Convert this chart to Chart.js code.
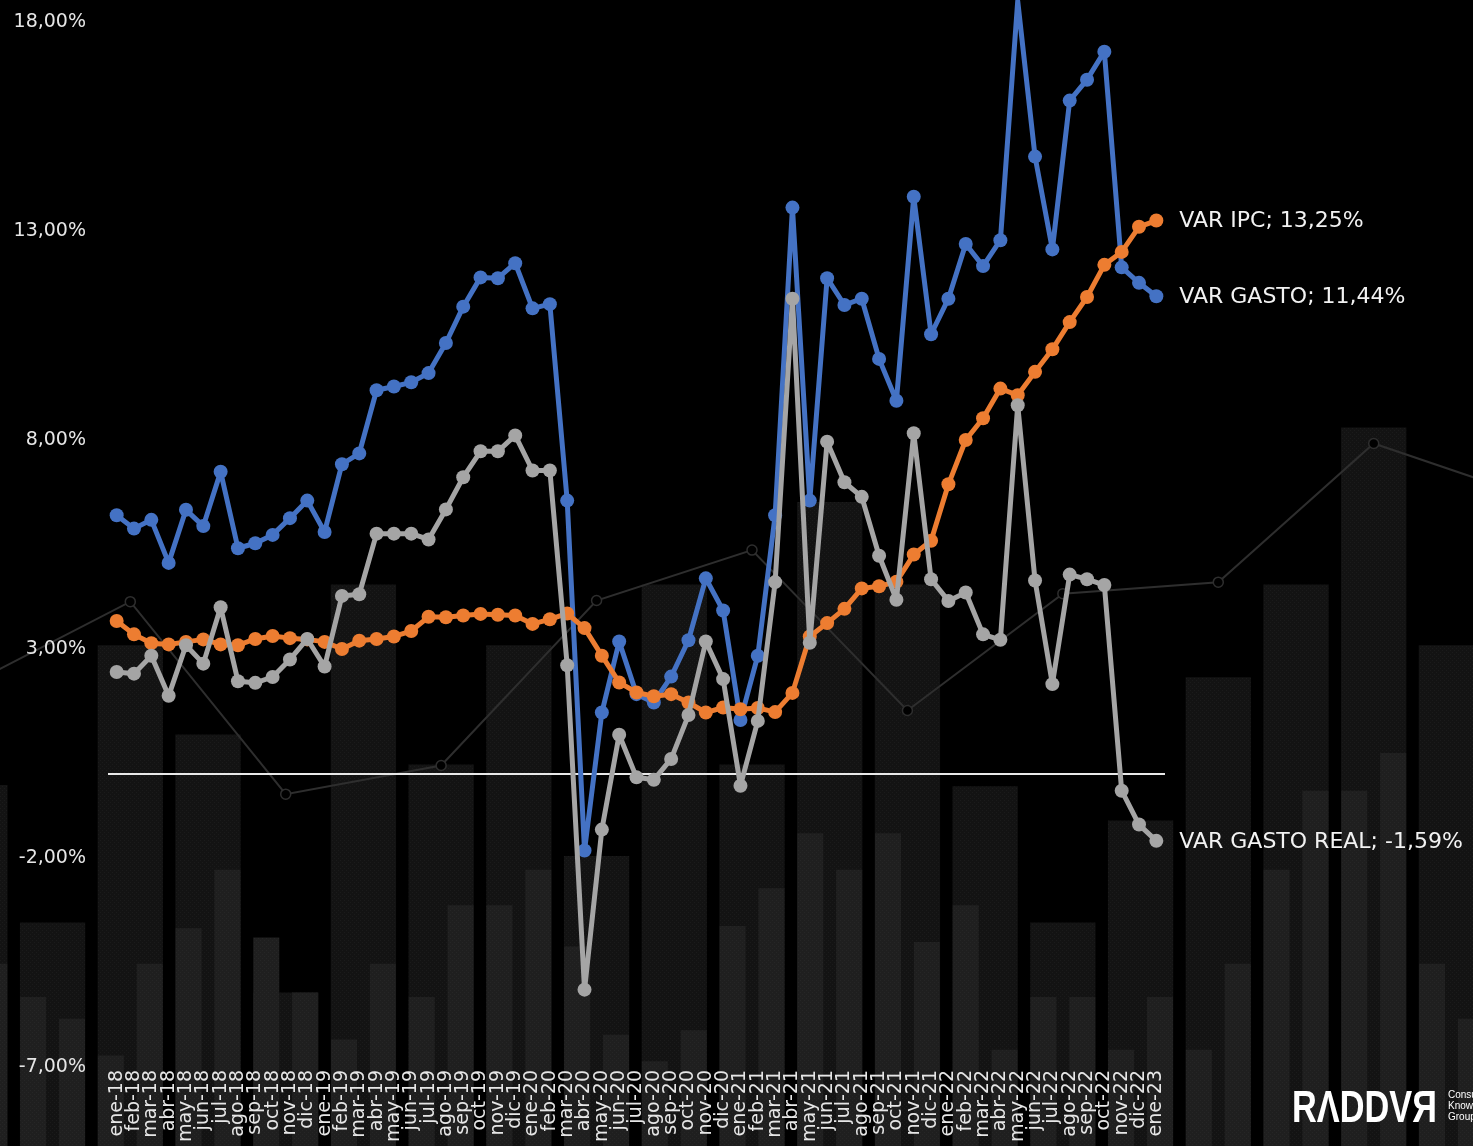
<!DOCTYPE html>
<html>
<head>
<meta charset="utf-8">
<script src="https://cdn.jsdelivr.net/npm/chart.js@4.4.1/dist/chart.umd.min.js"></script>
<style>
  html, body { margin: 0; padding: 0; background: #000; overflow: hidden; }
  #wrap { position: relative; width: 1473px; height: 1146px; overflow: hidden; background: #000; }
  #bgChart { position: absolute; left: -64px; top: 0; }
  #mainChart { position: absolute; left: 0; top: 0; }
</style>
</head>
<body>
<div id="wrap">
  <canvas id="bgChart" width="1632" height="1146"></canvas>
  <canvas id="mainChart" width="1473" height="1146"></canvas>
</div>
<script>
// months ene-18 .. ene-23
const months = [
  'ene-18','feb-18','mar-18','abr-18','may-18','jun-18','jul-18','ago-18','sep-18','oct-18','nov-18','dic-18',
  'ene-19','feb-19','mar-19','abr-19','may-19','jun-19','jul-19','ago-19','sep-19','oct-19','nov-19','dic-19',
  'ene-20','feb-20','mar-20','abr-20','may-20','jun-20','jul-20','ago-20','sep-20','oct-20','nov-20','dic-20',
  'ene-21','feb-21','mar-21','abr-21','may-21','jun-21','jul-21','ago-21','sep-21','oct-21','nov-21','dic-21',
  'ene-22','feb-22','mar-22','abr-22','may-22','jun-22','jul-22','ago-22','sep-22','oct-22','nov-22','dic-22',
  'ene-23'
];

const varGasto = [
  6.20, 5.88, 6.09, 5.06, 6.33, 5.94, 7.24, 5.41, 5.53, 5.73, 6.13, 6.55,
  5.80, 7.42, 7.68, 9.19, 9.28, 9.38, 9.60, 10.32, 11.19, 11.89, 11.87, 12.23,
  11.15, 11.25, 6.55, -1.82, 1.48, 3.18, 1.92, 1.72, 2.34, 3.21, 4.69, 3.92,
  1.30, 2.84, 6.20, 13.56, 6.55, 11.87, 11.23, 11.38, 9.94, 8.94, 13.82, 10.53,
  11.38, 12.69, 12.16, 12.78, 18.50, 14.78, 12.56, 16.12, 16.62, 17.29, 12.13, 11.76,
  11.44
];

const varIpc = [
  3.67, 3.35, 3.14, 3.11, 3.17, 3.23, 3.11, 3.09, 3.24, 3.31, 3.26, 3.23,
  3.17, 3.00, 3.20, 3.24, 3.30, 3.43, 3.77, 3.76, 3.80, 3.84, 3.82, 3.80,
  3.60, 3.71, 3.85, 3.50, 2.84, 2.20, 1.96, 1.87, 1.92, 1.72, 1.48, 1.60,
  1.56, 1.59, 1.49, 1.95, 3.30, 3.62, 3.96, 4.45, 4.50, 4.61, 5.26, 5.59,
  6.94, 8.00, 8.52, 9.23, 9.07, 9.63, 10.17, 10.82, 11.42, 12.19, 12.50, 13.10,
  13.25
];

const varGastoReal = [
  2.45, 2.41, 2.84, 1.88, 3.09, 2.65, 4.00, 2.23, 2.19, 2.33, 2.75, 3.24,
  2.58, 4.27, 4.31, 5.76, 5.76, 5.76, 5.62, 6.34, 7.11, 7.73, 7.73, 8.11,
  7.27, 7.27, 2.61, -5.15, -1.32, 0.95, -0.07, -0.13, 0.37, 1.42, 3.18, 2.28,
  -0.27, 1.28, 4.60, 11.38, 3.15, 7.96, 6.99, 6.64, 5.23, 4.18, 8.16, 4.67,
  4.15, 4.35, 3.35, 3.22, 8.83, 4.64, 2.16, 4.78, 4.67, 4.53, -0.39, -1.20,
  -1.59
];

const yTicks = [-7, -2, 3, 8, 13, 18];

// decorative background (heights in % of picture height)
const bgWide = [31.5, 19.5, 43.7, 35.9, 13.4, 49.0, 33.3, 43.7, 25.3, 49.0, 33.3,
  56.2, 49.0, 31.4, 19.5, 28.4, 40.9, 49.0, 62.7, 43.7, 0];
const bgNarrow = [0, 15.9, 13.0, 11.1, 7.9, 15.9, 19.0, 24.1, 18.2, 13.4, 9.3, 15.9,
  13.0, 21.0, 21.0, 24.1, 17.4, 9.7, 7.4, 10.1, 19.2, 22.5, 27.3, 24.1,
  27.3, 17.8, 21.0, 8.4, 13.0, 13.0, 8.4, 13.0, 8.4, 15.9, 24.1, 31.0,
  31.0, 34.3, 15.9, 11.1, 0, 0];
const bgLine = [40.5, null, 47.5, null, 30.7, null, 33.2, null, 47.6, null, 52.0,
  null, 38.0, null, 48.2, null, 49.2, null, 61.3, null, 56.7];

const FONT = "'DejaVu Sans', sans-serif";

// speckled fill like the photo texture behind the chart
function speckle(base, dot) {
    const c = document.createElement('canvas');
    c.width = 4; c.height = 4;
    const g = c.getContext('2d');
    g.fillStyle = base;
    g.fillRect(0, 0, 4, 4);
    g.fillStyle = dot;
    g.fillRect(0, 0, 1, 1);
    g.fillRect(2, 2, 1, 1);
    return g.createPattern(c, 'repeat');
}

new Chart(document.getElementById('bgChart'), {
    type: 'bar',
    data: {
        datasets: [
            {
                type: 'line',
                data: bgLine,
                xAxisID: 'xw',
                borderColor: '#2e2e2e',
                borderWidth: 2,
                pointRadius: 5,
                pointBorderColor: '#2e2e2e',
                pointBackgroundColor: '#000',
                pointBorderWidth: 1.5,
                spanGaps: true,
                tension: 0
            },
            {
                data: bgNarrow,
                xAxisID: 'xn',
                backgroundColor: speckle('#1f1f1f', '#262626'),
                grouped: false,
                barPercentage: 0.67,
                categoryPercentage: 1
            },
            {
                data: bgWide,
                xAxisID: 'xw',
                backgroundColor: speckle('#131313', '#1b1b1b'),
                grouped: false,
                barPercentage: 0.84,
                categoryPercentage: 1
            }
        ]
    },
    options: {
        responsive: false,
        animation: false,
        events: [],
        layout: { padding: 0, autoPadding: false },
        plugins: { legend: { display: false }, tooltip: { enabled: false } },
        scales: {
            xw: { type: 'category', labels: bgWide.map((v, i) => i), display: false, offset: true },
            xn: { type: 'category', labels: bgNarrow.map((v, i) => i), display: false, offset: true },
            y: { min: 0, max: 100, display: false }
        }
    }
});

function fmt(v) {
    return v.toFixed(2).replace('.', ',') + '%';
}

const endLabels = {
    id: 'endLabels',
    afterDatasetsDraw(chart) {
        const ctx = chart.ctx;
        ctx.save();
        ctx.font = '22px ' + FONT;
        ctx.fillStyle = '#f2f2f2';
        ctx.textBaseline = 'middle';
        chart.data.datasets.forEach((ds, i) => {
            const meta = chart.getDatasetMeta(i);
            const pt = meta.data[meta.data.length - 1];
            const val = ds.data[ds.data.length - 1];
            ctx.fillText(ds.label + '; ' + fmt(val), pt.x + 23, pt.y + 1);
        });
        ctx.restore();
    },
    afterDraw(chart) {
        const ctx = chart.ctx;
        ctx.save();
        ctx.fillStyle = '#ffffff';
        ctx.textBaseline = 'alphabetic';
        ctx.translate(1292, 1122);
        ctx.scale(0.78, 1);
        ctx.font = "bold 44px 'Liberation Sans', sans-serif";
        ctx.fillText('RΛDDVЯ', 0, 0);
        ctx.restore();
        ctx.save();
        ctx.fillStyle = '#ffffff';
        ctx.font = "10px 'Liberation Sans', sans-serif";
        ctx.fillText('Consulting', 1448, 1098);
        ctx.fillText('Knowledge', 1448, 1109);
        ctx.fillText('Group', 1448, 1120);
        ctx.restore();
    }
};

new Chart(document.getElementById('mainChart'), {
    type: 'line',
    data: {
        labels: months,
        datasets: [
            {
                label: 'VAR GASTO REAL',
                data: varGastoReal,
                borderColor: '#a5a5a5',
                backgroundColor: '#a5a5a5'
            },
            {
                label: 'VAR IPC',
                data: varIpc,
                borderColor: '#ed7d31',
                backgroundColor: '#ed7d31'
            },
            {
                label: 'VAR GASTO',
                data: varGasto,
                borderColor: '#4472c4',
                backgroundColor: '#4472c4'
            }
        ]
    },
    options: {
        responsive: false,
        animation: false,
        events: [],
        clip: false,
        layout: { padding: { left: 0, right: 308, top: 22, bottom: 0 }, autoPadding: false },
        elements: {
            line: { borderWidth: 5, tension: 0, borderJoinStyle: 'round', borderCapStyle: 'round' },
            point: { radius: 7, borderWidth: 0 }
        },
        plugins: { legend: { display: false }, tooltip: { enabled: false } },
        scales: {
            x: {
                offset: true,
                grid: { display: false, drawTicks: false },
                border: { display: false },
                ticks: {
                    color: '#e6e6e6',
                    font: { family: FONT, size: 19 },
                    autoSkip: false,
                    minRotation: 90,
                    maxRotation: 90,
                    padding: 3
                },
                afterFit(scale) {
                    scale.height = 79;
                    scale.paddingTop = 0;
                    scale.paddingBottom = 0;
                }
            },
            y: {
                min: -7,
                max: 18,
                afterBuildTicks(scale) {
                    scale.ticks = yTicks.concat([0]).map(v => ({ value: v }));
                },
                grid: {
                    drawTicks: false,
                    color: c => (c.tick && c.tick.value === 0 ? '#e8e8e8' : 'rgba(0,0,0,0)'),
                    lineWidth: 2
                },
                border: { display: false },
                ticks: {
                    color: '#e6e6e6',
                    font: { family: FONT, size: 19 },
                    padding: 22,
                    callback: v => (v === 0 ? '' : fmt(v))
                },
                afterFit(scale) {
                    scale.width = 108;
                    scale.paddingTop = 0;
                    scale.paddingBottom = 0;
                }
            }
        }
    },
    plugins: [endLabels]
});
</script>
</body>
</html>
